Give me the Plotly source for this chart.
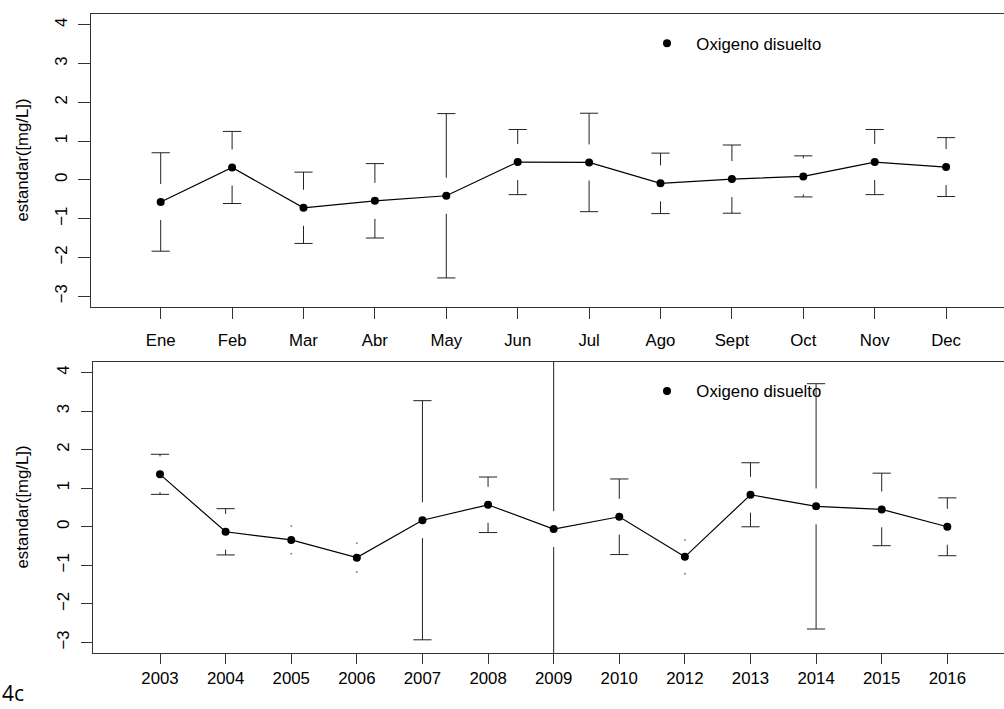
import plotly.graph_objects as go

# Monthly standardised dissolved oxygen (mean and spread)
meses = ["Ene", "Feb", "Mar", "Abr", "May", "Jun", "Jul", "Ago", "Sept", "Oct", "Nov", "Dec"]
media_mes = [-0.57, 0.32, -0.72, -0.54, -0.41, 0.46, 0.45, -0.09, 0.02, 0.09, 0.46, 0.33]
sd_mes = [1.27, 0.93, 0.92, 0.96, 2.12, 0.84, 1.27, 0.78, 0.88, 0.53, 0.84, 0.76]

# Yearly standardised dissolved oxygen (mean and spread)
anios = ["2003", "2004", "2005", "2006", "2007", "2008", "2009", "2010", "2012", "2013", "2014", "2015", "2016"]
media_anio = [1.36, -0.13, -0.34, -0.80, 0.17, 0.57, -0.06, 0.26, -0.78, 0.83, 0.53, 0.45, 0.00]
sd_anio = [0.52, 0.60, 0.36, 0.37, 3.10, 0.72, 5.00, 0.98, 0.44, 0.83, 3.18, 0.94, 0.75]

GAP = 0.465          # gap left around each point, in y units
FONT = "Liberation Sans, Arial, sans-serif"
FS = 16.8
BAR = "#222222"

fig = go.Figure()


def panel(xax, yax, labels, media, sd, legend):
    xs = list(range(1, len(labels) + 1))
    # connecting line with points
    fig.add_trace(go.Scatter(x=xs, y=media, mode="lines+markers", xaxis=xax, yaxis=yax,
                             line=dict(color="black", width=1.2),
                             marker=dict(color="black", size=8), showlegend=False,
                             hoverinfo="skip"))
    # error bar stems, interrupted around the point
    sx, sy, cx, cy, dx, dy = [], [], [], [], [], []
    for x, m, s in zip(xs, media, sd):
        for sign in (1, -1):
            tip = m + sign * s
            if s > GAP:
                sx += [x, x, None]
                sy += [tip, m + sign * GAP, None]
                cx.append(x)
                cy.append(tip)
            else:
                dx.append(x)
                dy.append(tip)
    fig.add_trace(go.Scatter(x=sx, y=sy, mode="lines", xaxis=xax, yaxis=yax,
                             line=dict(color=BAR, width=1), showlegend=False, hoverinfo="skip"))
    fig.add_trace(go.Scatter(x=cx, y=cy, mode="markers", xaxis=xax, yaxis=yax,
                             marker=dict(symbol="line-ew", size=13, line=dict(color=BAR, width=1)),
                             showlegend=False, hoverinfo="skip"))
    fig.add_trace(go.Scatter(x=dx, y=dy, mode="markers", xaxis=xax, yaxis=yax,
                             marker=dict(color="#888888", size=2), showlegend=False,
                             hoverinfo="skip"))
    # legend entry
    fig.add_trace(go.Scatter(x=[None], y=[None], mode="markers", xaxis=xax, yaxis=yax,
                             marker=dict(color="black", size=8),
                             name="\u00a0\u00a0Oxigeno disuelto", legend=legend))


panel("x", "y", meses, media_mes, sd_mes, "legend")
panel("x2", "y2", anios, media_anio, sd_anio, "legend2")

axis_common = dict(showgrid=False, zeroline=False, showline=True, linecolor="#333333",
                   linewidth=1, ticks="outside", tickcolor="#333333", tickwidth=1,
                   tickfont=dict(family=FONT, size=FS, color="black"))
y_ticks = list(range(-3, 5))
y_text = [str(v).replace("-", "\u2212") for v in y_ticks]

fig.update_layout(
    width=1004, height=709,
    margin=dict(l=0, r=0, t=0, b=0),
    paper_bgcolor="white", plot_bgcolor="white",
    font=dict(family=FONT, size=FS, color="black"),
    xaxis=dict(domain=[90.7 / 1004, 1], range=[0.0196, 12.811], anchor="y",
               tickvals=list(range(1, 13)), ticktext=meses, mirror=True, ticklen=11,
               ticklabelstandoff=7, **axis_common),
    yaxis=dict(domain=[1 - 307 / 709, 1 - 14 / 709], range=[-3.28, 4.28], anchor="x",
               tickvals=y_ticks, ticktext=y_text, tickangle=-90, ticklen=12,
               ticklabelstandoff=4, **axis_common),
    xaxis2=dict(domain=[92.7 / 1004, 1], range=[-0.0258, 13.864], anchor="y2",
                tickvals=list(range(1, 14)), ticktext=anios, mirror=True, ticklen=10,
                ticklabelstandoff=0, **axis_common),
    yaxis2=dict(domain=[1 - 653.3 / 709, 1 - 361.7 / 709], range=[-3.28, 4.28], anchor="x2",
                tickvals=y_ticks, ticktext=y_text, tickangle=-90, ticklen=11,
                ticklabelstandoff=5, **axis_common),
    legend=dict(x=647 / 1004, y=1 - 43.3 / 709, xanchor="left", yanchor="middle",
                bgcolor="rgba(0,0,0,0)", font=dict(family=FONT, size=FS)),
    legend2=dict(x=647 / 1004, y=1 - 391 / 709, xanchor="left", yanchor="middle",
                 bgcolor="rgba(0,0,0,0)", font=dict(family=FONT, size=FS)),
    annotations=[
        dict(text="estandar([mg/L])", x=22 / 1004, y=1 - 160.5 / 709, xref="paper", yref="paper",
             textangle=-90, showarrow=False, xanchor="center", yanchor="middle",
             font=dict(family=FONT, size=FS)),
        dict(text="estandar([mg/L])", x=22 / 1004, y=1 - 507.5 / 709, xref="paper", yref="paper",
             textangle=-90, showarrow=False, xanchor="center", yanchor="middle",
             font=dict(family=FONT, size=FS)),
        dict(text="4c", x=0, y=0, xref="paper", yref="paper", showarrow=False,
             xanchor="left", yanchor="bottom", yshift=0, xshift=0,
             font=dict(family="Open Sans, sans-serif", size=21, color="black")),
    ],
)

fig.write_html("out.html")
